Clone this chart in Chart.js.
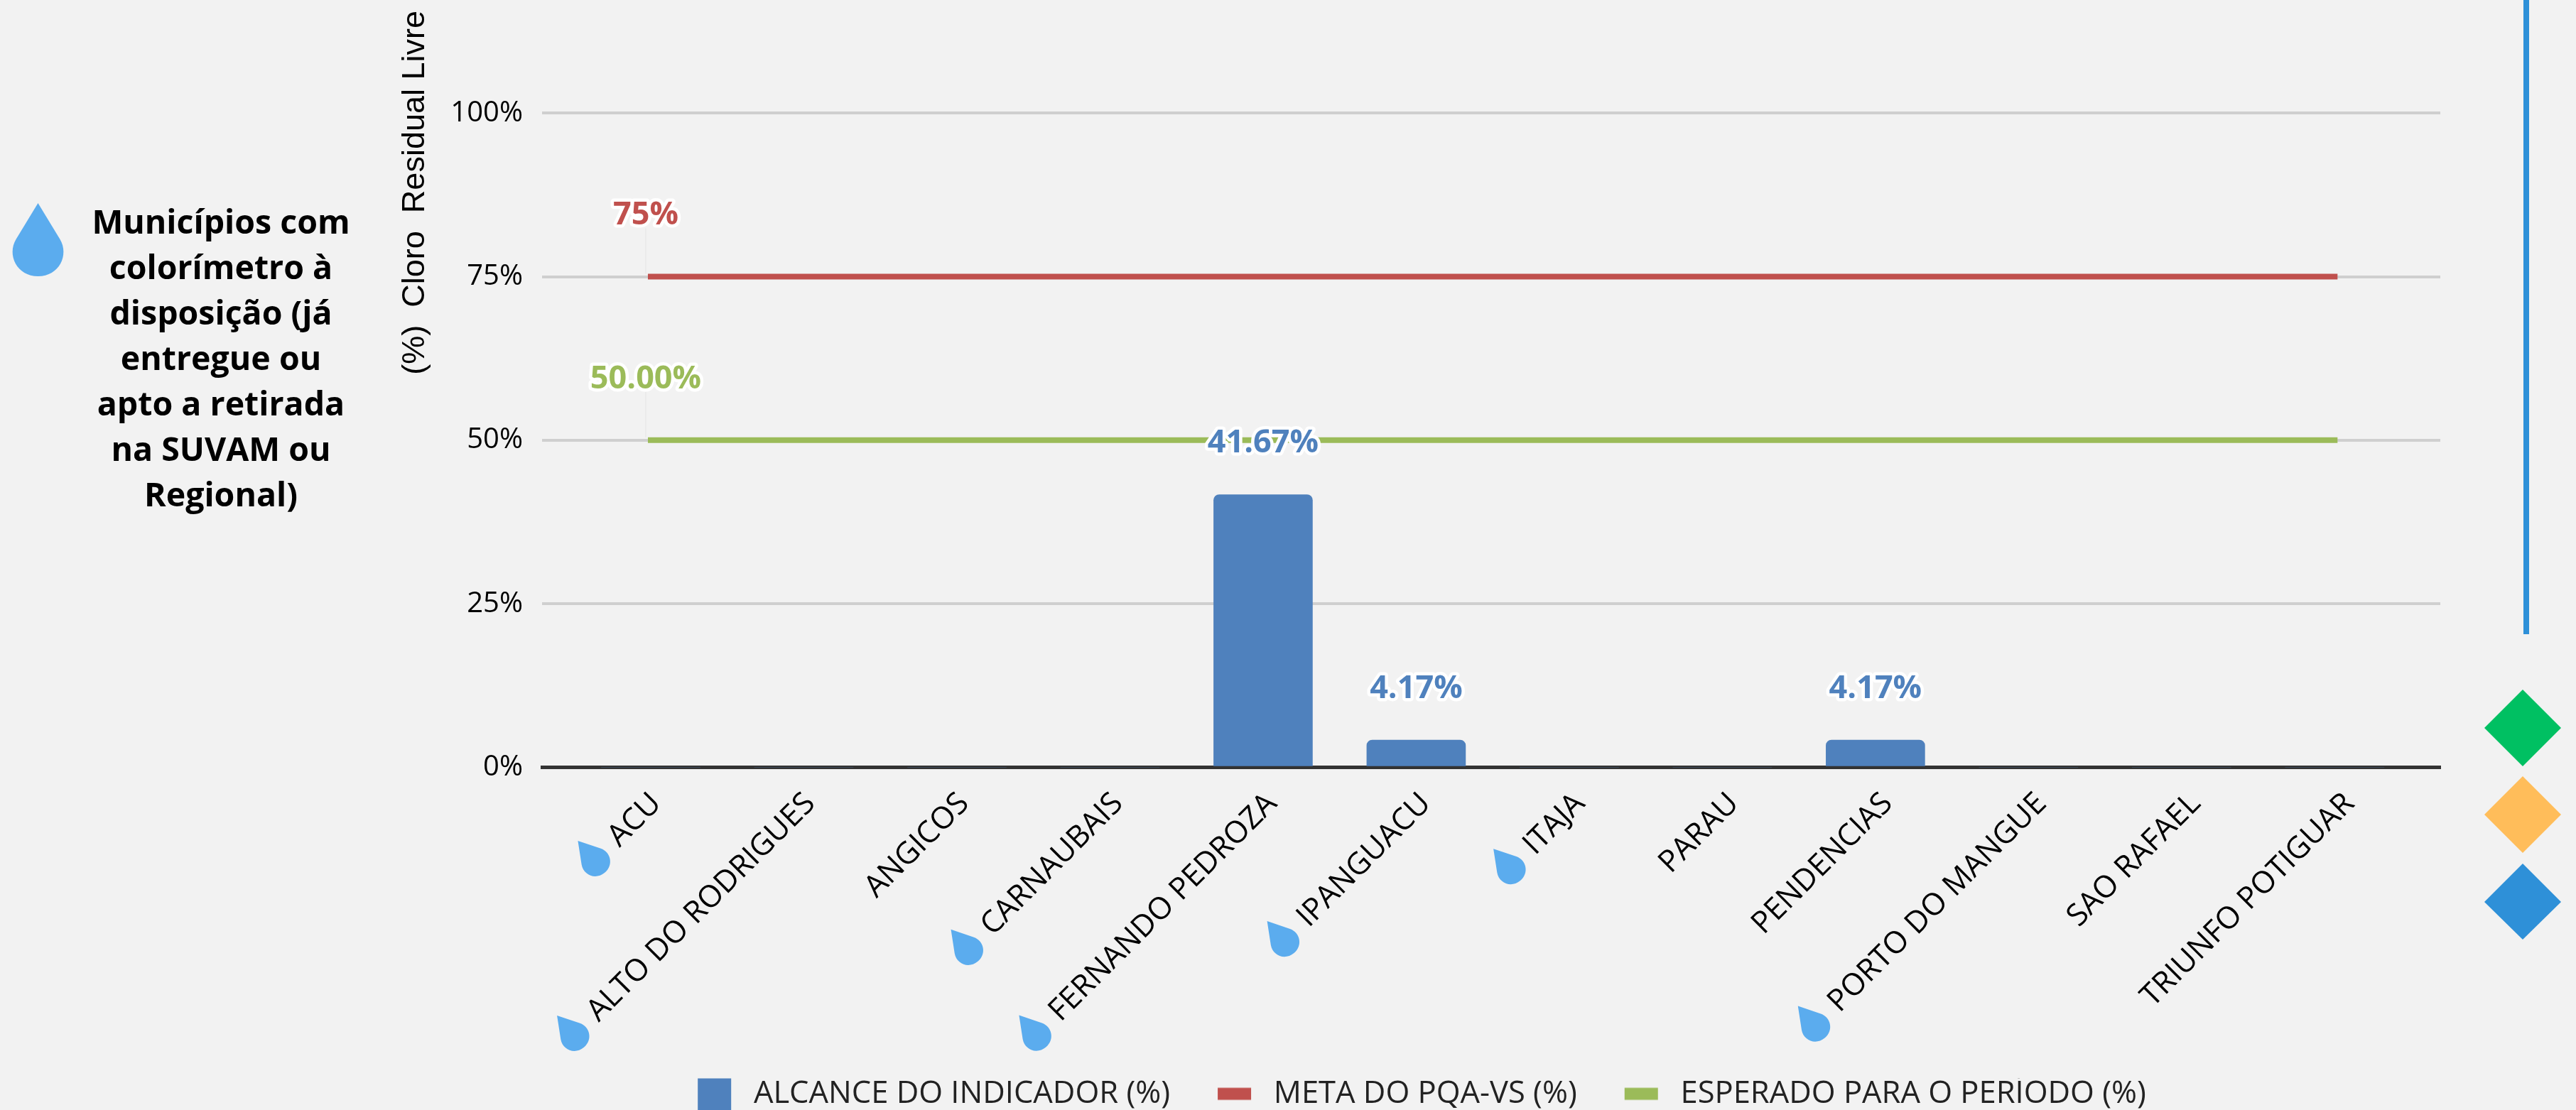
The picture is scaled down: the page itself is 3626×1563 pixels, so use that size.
<!DOCTYPE html>
<html>
<head>
<meta charset="utf-8">
<script src="https://cdn.jsdelivr.net/npm/chart.js@4"></script>
<style>
html, body { margin: 0; padding: 0; background: #f2f2f2; }
#wrap { position: relative; width: 3626px; height: 1563px; overflow: hidden; }
#side { position: absolute; left: 71px; top: 279px; width: 480px; text-align: center; font: bold 46.5px/64px "Open Sans"; color: #000; }
#deco { position: absolute; left: 3490px; top: 0; }
</style>
</head>
<body>
<div id="wrap">
<canvas id="chart" width="3626" height="1563"></canvas>
<div id="side">Municípios com<br>colorímetro à<br>disposição (já<br>entregue ou<br>apto a retirada<br>na SUVAM ou<br>Regional)</div>
<svg id="deco" width="136" height="1340">
  <rect x="62" y="0" width="8" height="893" fill="#2e90d8"/>
  <polygon points="61,971 115,1025 61,1079 7,1025" fill="#00c062"/>
  <polygon points="61,1093 115,1147 61,1201 7,1147" fill="#ffbd5a"/>
  <polygon points="61,1216 115,1270 61,1323 7,1270" fill="#2e90d8"/>
</svg>
</div>
<script>
var categories = ["ACU", "ALTO DO RODRIGUES", "ANGICOS", "CARNAUBAIS", "FERNANDO PEDROZA", "IPANGUACU", "ITAJA", "PARAU", "PENDENCIAS", "PORTO DO MANGUE", "SAO RAFAEL", "TRIUNFO POTIGUAR"];
var alcance = [0, 0, 0, 0, 41.67, 4.17, 0, 0, 4.17, 0, 0, 0];
var meta = [75, 75, 75, 75, 75, 75, 75, 75, 75, 75, 75, 75];
var esperado = [50, 50, 50, 50, 50, 50, 50, 50, 50, 50, 50, 50];
var colorimetro = [1, 1, 0, 1, 1, 1, 1, 0, 0, 1, 0, 0];
var yTicks = [0, 25, 50, 75, 100];

var AZUL = '#4f81bd', VERMELHO = '#c0504d', VERDE = '#9bbb59', GOTA = '#5bacee';
var fonte = '"Open Sans"';
var LEFT = 501;

function points(values) {
    return values.map(function(v, i) { return {x: i, y: v}; });
}

// the labels in the picture sit a little wider apart than the bars
function labelPos(i) {
    return i * 1.0055 + 0.037;
}

// legend swatch with room around it, chart.js centers the image on the box
function swatch(color, h) {
    var c = document.createElement('canvas');
    c.width = 124;
    c.height = 48;
    var g = c.getContext('2d');
    g.fillStyle = color;
    g.fillRect(67, (48 - h) / 2, 47, h);
    return c;
}

function drop(ctx, cx, cy, scale, angle) {
    ctx.save();
    ctx.translate(cx, cy);
    ctx.rotate(angle);
    ctx.scale(scale, scale);
    ctx.beginPath();
    ctx.moveTo(0, -68);
    ctx.lineTo(-31, -17);
    ctx.bezierCurveTo(-44, 5, -30, 35, 0, 35);
    ctx.bezierCurveTo(30, 35, 44, 5, 31, -17);
    ctx.closePath();
    ctx.fillStyle = GOTA;
    ctx.fill();
    ctx.restore();
}

function halo(ctx, text, x, y, color) {
    ctx.font = 'bold 45px ' + fonte;
    ctx.textAlign = 'center';
    ctx.textBaseline = 'middle';
    ctx.lineJoin = 'round';
    ctx.lineWidth = 9;
    ctx.strokeStyle = '#fff';
    ctx.strokeText(text, x, y);
    ctx.fillStyle = color;
    ctx.fillText(text, x, y);
}

var extras = {
    id: 'extras',
    afterDatasetsDraw: function(chart) {
        var ctx = chart.ctx, xs = chart.scales.x, ys = chart.scales.y;

        // leader lines and line labels on the first point
        ctx.save();
        [[meta, '75%', VERMELHO], [esperado, '50.00%', VERDE]].forEach(function(s) {
            var px = xs.getPixelForValue(0) - 7, py = ys.getPixelForValue(s[0][0]);
            ctx.strokeStyle = '#ebebeb';
            ctx.lineWidth = 2;
            ctx.beginPath();
            ctx.moveTo(px, py - 68);
            ctx.lineTo(px, py - 4);
            ctx.stroke();
            halo(ctx, s[1], px, py - 86, s[2]);
        });

        alcance.forEach(function(v, i) {
            if (v > 0) halo(ctx, v.toFixed(2) + '%', xs.getPixelForValue(i), ys.getPixelForValue(v) - 72, AZUL);
        });

        // drops beside the municipalities that have a colorimeter
        ctx.font = '43px ' + fonte;
        categories.forEach(function(c, i) {
            if (!colorimetro[i]) return;
            var w = ctx.measureText(c).width;
            var sx = xs.getPixelForValue(labelPos(i)) - w * Math.SQRT1_2;
            var sy = 1132 + w * Math.SQRT1_2;
            drop(ctx, sx - 25, sy + 21, 0.57, -0.7);
        });
        ctx.restore();

        drop(ctx, 53.5, 354, 1, 0);
    }
};

new Chart(document.getElementById('chart'), {
    type: 'bar',
    data: {
        datasets: [{
            label: 'ALCANCE DO INDICADOR (%)',
            data: points(alcance),
            backgroundColor: AZUL,
            barThickness: 139,
            borderRadius: {topLeft: 8, topRight: 8},
            borderSkipped: false,
            order: 1
        }, {
            type: 'line',
            label: 'META DO PQA-VS (%)',
            data: points(meta),
            borderColor: VERMELHO,
            backgroundColor: VERMELHO,
            borderWidth: 8,
            borderCapStyle: 'square',
            pointRadius: 0,
            order: 2
        }, {
            type: 'line',
            label: 'ESPERADO PARA O PERÍODO (%)',
            data: points(esperado),
            borderColor: VERDE,
            backgroundColor: VERDE,
            borderWidth: 8,
            borderCapStyle: 'square',
            pointRadius: 0,
            order: 3
        }]
    },
    options: {
        responsive: false,
        animation: false,
        devicePixelRatio: 1,
        layout: {padding: {left: LEFT, right: 191, top: 15, bottom: -9}},
        plugins: {
            tooltip: {enabled: false},
            legend: {
                position: 'bottom',
                labels: {
                    usePointStyle: true,
                    pointStyleWidth: 124,
                    padding: 0,
                    color: '#222',
                    font: {family: fonte, size: 43.5},
                    generateLabels: function(chart) {
                        return chart.data.datasets.map(function(d, i) {
                            return {
                                text: d.label,
                                datasetIndex: i,
                                fontColor: '#222',
                                lineWidth: 0,
                                pointStyle: swatch(d.backgroundColor, i === 0 ? 48 : 17)
                            };
                        });
                    }
                }
            }
        },
        scales: {
            x: {
                type: 'linear',
                offset: false,
                min: -0.71,
                max: 11.69,
                grid: {display: false},
                border: {color: '#333', width: 5},
                afterBuildTicks: function(scale) {
                    scale.ticks = categories.map(function(c, i) { return {value: labelPos(i)}; });
                },
                afterFit: function(scale) {
                    scale.height = 438;
                    scale.paddingLeft = scale.paddingRight = 0;
                },
                ticks: {
                    autoSkip: false,
                    minRotation: 45,
                    maxRotation: 45,
                    padding: 18,
                    color: '#000',
                    font: {family: fonte, size: 43},
                    callback: function(v, i) { return categories[i]; }
                }
            },
            y: {
                min: 0,
                max: 115.65,
                grid: {color: '#cfcfcf', lineWidth: 4, drawTicks: false},
                border: {display: false},
                afterBuildTicks: function(scale) {
                    scale.ticks = yTicks.map(function(v) { return {value: v}; });
                },
                afterFit: function(scale) {
                    scale.width = 763 - LEFT;
                    scale.paddingTop = scale.paddingBottom = 0;
                },
                ticks: {
                    padding: 27,
                    color: '#000',
                    font: {family: fonte, size: 40},
                    callback: function(v) { return v + '%'; }
                },
                title: {
                    display: true,
                    text: '(%)  Cloro  Residual Livre',
                    align: 'end',
                    color: '#000',
                    padding: {top: 61, bottom: 0},
                    font: {family: 'Liberation Sans', size: 45, lineHeight: 1}
                }
            }
        }
    },
    plugins: [extras]
});
</script>
</body>
</html>
